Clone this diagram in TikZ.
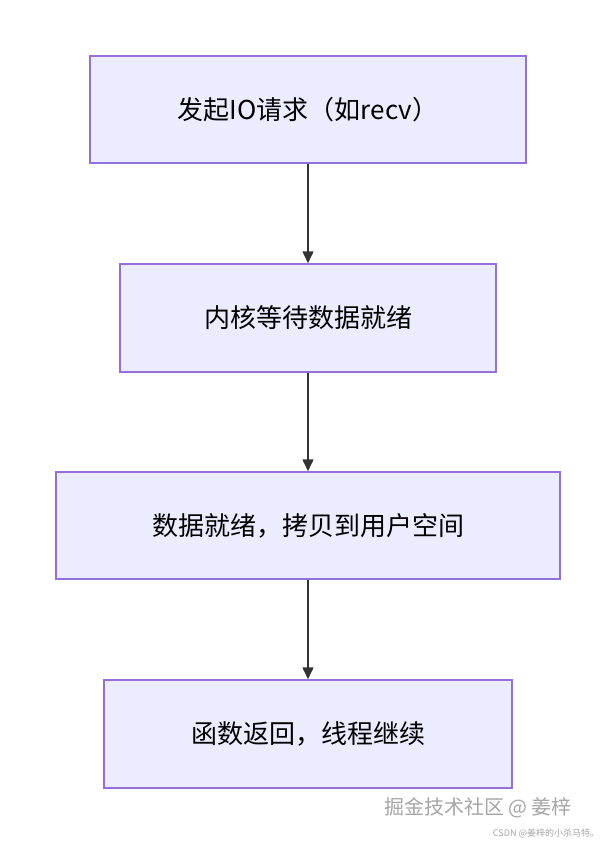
\documentclass[tikz,border=0pt]{standalone}
\usepackage{fontspec}
\setmainfont{Noto Sans CJK SC}
\usetikzlibrary{arrows.meta}
\definecolor{boxfill}{HTML}{ECECFF}
\definecolor{boxdraw}{HTML}{9370DB}
\begin{document}
\begin{tikzpicture}[x=1pt,y=-1pt,
  box/.style={draw=boxdraw,fill=boxfill,line width=1.5pt,font=\fontsize{26}{30}\selectfont},
  arr/.style={draw=black!80,line width=1.5pt,-{Triangle[length=12pt,width=11pt]}}]
\useasboundingbox (0,0) rectangle (616,844);
\fill[white] (0,0) rectangle (616,844);
\node[box,minimum width=436pt,minimum height=107pt] (a) at (308,109.5) {发起IO请求（如recv）};
\node[box,minimum width=376pt,minimum height=108pt] (b) at (308,318) {内核等待数据就绪};
\node[box,minimum width=504pt,minimum height=107pt] (c) at (308,525.5) {数据就绪，拷贝到用户空间};
\node[box,minimum width=408pt,minimum height=108pt] (d) at (308,734) {函数返回，线程继续};
\draw[arr] (a) -- (b);
\draw[arr] (b) -- (c);
\draw[arr] (c) -- (d);
\node[text=gray!70,font=\fontsize{20}{24}\selectfont] (w1) at (478,808) {掘金技术社区 @ 姜梓};
\node[text=gray!70,font=\fontsize{9}{11}\selectfont] (w2) at (546,833) {CSDN @姜梓的小杀马特。};
\end{tikzpicture}
\end{document}
